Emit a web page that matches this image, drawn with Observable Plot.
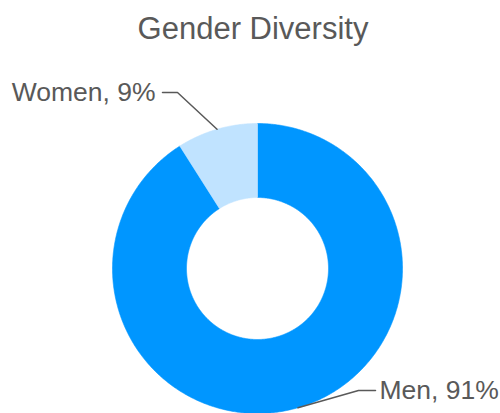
<!DOCTYPE html>
<html>
<head>
<meta charset="utf-8">
<script src="https://cdn.jsdelivr.net/npm/d3@7"></script>
<script src="https://cdn.jsdelivr.net/npm/@observablehq/plot@0.6"></script>
<style>
  html, body { margin: 0; padding: 0; background: #fff; }
  #title { font: 31px "Liberation Sans", Arial, sans-serif; color: #595959; text-align: center;
           line-height: 31px; padding-top: 13px; height: 35px; width: 506px; }
</style>
</head>
<body>
<div id="title">Gender Diversity</div>
<div id="chart"></div>
<script>
// Data
const categories = ["Men", "Women"];
const shares = [91, 9];
const labels = ["Men, 91%", "Women, 9%"];
const colors = ["#0096ff", "#c0e3ff"];

// Layout (units = px, centre of donut at 0,0, y up)
const outerR = 145, innerR = 71;
const labelLayout = {
  Men:   {elbow: [101, -122], end: [118, -122], text: [122, -122], anchor: "start"},
  Women: {elbow: [-80, 176],  end: [-95, 176],  text: [-102, 176], anchor: "end"}
};

const pie = d3.pie().sort(null).value(d => d.share);
const data = categories.map((c, i) => ({cat: c, share: shares[i], label: labels[i], color: colors[i]}));
const arcs = pie(data);

function slicePoints(a) {
  const pts = [];
  const n = Math.max(4, Math.ceil((a.endAngle - a.startAngle) / (Math.PI / 360)));
  for (let k = 0; k <= n; k++) {
    const t = a.startAngle + (a.endAngle - a.startAngle) * k / n;
    pts.push({x: outerR * Math.sin(t), y: outerR * Math.cos(t)});
  }
  for (let k = n; k >= 0; k--) {
    const t = a.startAngle + (a.endAngle - a.startAngle) * k / n;
    pts.push({x: innerR * Math.sin(t), y: innerR * Math.cos(t)});
  }
  pts.push(pts[0]);
  return pts;
}

const sliceMarks = arcs.map(a => Plot.line(slicePoints(a), {
  x: "x", y: "y", fill: a.data.color, stroke: a.data.color, strokeWidth: 0.6, curve: "linear"
}));

const leaderMarks = arcs.map(a => {
  const m = (a.startAngle + a.endAngle) / 2;
  const L = labelLayout[a.data.cat];
  const pts = [
    {x: outerR * Math.sin(m), y: outerR * Math.cos(m)},
    {x: L.elbow[0], y: L.elbow[1]},
    {x: L.end[0], y: L.end[1]}
  ];
  return Plot.line(pts, {x: "x", y: "y", stroke: "#595959", strokeWidth: 1.5});
});

const textMarks = arcs.map(a => {
  const L = labelLayout[a.data.cat];
  return Plot.text([a.data], {
    x: () => L.text[0], y: () => L.text[1], text: "label",
    textAnchor: L.anchor, fontSize: 26.5, fill: "#595959",
    fontFamily: "'Liberation Sans', Arial, sans-serif"
  });
});

const chart = Plot.plot({
  width: 500,
  height: 365,
  margin: 0,
  x: {domain: [-257, 243], axis: null},
  y: {domain: [-145, 220], axis: null},
  style: {background: "#fff", overflow: "visible"},
  marks: [...sliceMarks, ...leaderMarks, ...textMarks]
});
document.getElementById("chart").appendChild(chart);
</script>
</body>
</html>
